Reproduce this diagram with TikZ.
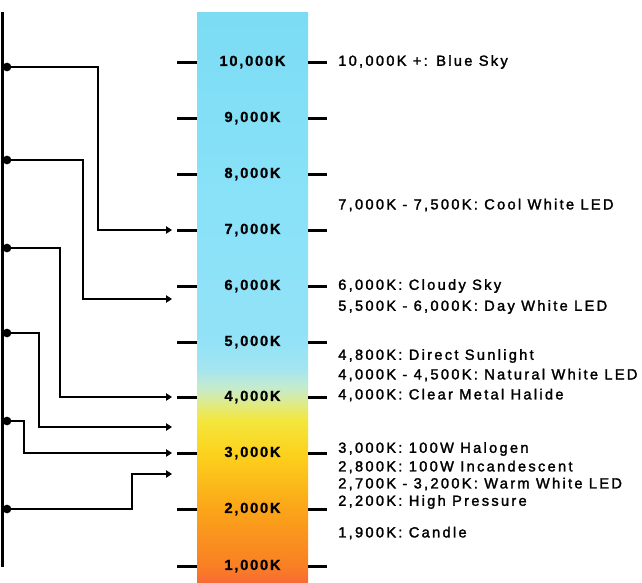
\documentclass[tikz,border=0pt]{standalone}
\usepackage{fontspec}
\setmainfont{Liberation Sans}
\newfontfamily\barfont[LetterSpace=12,BoldFeatures={FakeBold=0.8}]{Liberation Sans}
\newfontfamily\notefont[LetterSpace=15.5,FakeBold=1.8]{Liberation Sans}
\usetikzlibrary{arrows.meta}

\definecolor{kRed}{HTML}{F86B35}
\definecolor{kOrange}{HTML}{F97F24}
\definecolor{kAmber}{HTML}{FBA519}
\definecolor{kGold}{HTML}{FCD21D}
\definecolor{kYellow}{HTML}{F4E63C}
\definecolor{kLime}{HTML}{DDEB8C}
\definecolor{kMint}{HTML}{C6EBCB}
\definecolor{kPale}{HTML}{A3E5F0}
\definecolor{kSky}{HTML}{93E2F7}
\definecolor{kCyan}{HTML}{89E2F8}
\definecolor{kTop}{HTML}{7BDCF4}

% the path covers 25bp..75bp of the shading
\pgfdeclareverticalshading{kelvin}{100bp}{
  color(0bp)=(kRed); color(25bp)=(kRed); color(26.4bp)=(kOrange);
  color(31.4bp)=(kAmber); color(36.3bp)=(kGold); color(39.2bp)=(kYellow);
  color(40.75bp)=(kLime); color(42bp)=(kMint); color(43.75bp)=(kPale);
  color(46bp)=(kSky); color(58.5bp)=(kCyan); color(75bp)=(kTop);
  color(100bp)=(kTop)}

\begin{document}
\begin{tikzpicture}[
  x=0.75pt, y=-0.75pt,
  barlabel/.style={inner sep=0pt, font=\barfont\fontsize{11}{13}\selectfont\bfseries},
  notelabel/.style={inner sep=0pt, anchor=west, font=\notefont\fontsize{11}{13}\selectfont},
  scalemark/.style={line width=2.25pt},
  conn/.style={line width=1.5pt, -{Triangle[length=4.5pt,width=5.5pt]}},
  srcdot/.style={circle, fill=black, inner sep=0pt, minimum size=6.5pt},
]
\useasboundingbox (0,0) rectangle (642,582);

% colour bar
\shade[shading=kelvin] (197,12) rectangle (308,582);

% scale marks
\foreach \y in {62,118,174,230,286,342,397,453,509,566}{
  \draw[scalemark] (177,\y) -- (197,\y);
  \draw[scalemark] (308,\y) -- (327,\y);
}

% bar labels
\node[barlabel] (k10) at (252.5,62) {10,000K};
\node[barlabel] (k9) at (252.5,118) {9,000K};
\node[barlabel] (k8) at (252.5,174) {8,000K};
\node[barlabel] (k7) at (252.5,230) {7,000K};
\node[barlabel] (k6) at (252.5,286) {6,000K};
\node[barlabel] (k5) at (252.5,342) {5,000K};
\node[barlabel] (k4) at (252.5,397) {4,000K};
\node[barlabel] (k3) at (252.5,453) {3,000K};
\node[barlabel] (k2) at (252.5,509) {2,000K};
\node[barlabel] (k1) at (252.5,566) {1,000K};

% light sources
\node[notelabel] (sky) at (338,62) {10,000K +: Blue Sky};
\node[notelabel] (cool) at (338,205) {7,000K - 7,500K: Cool White LED};
\node[notelabel] (cloud) at (338,286) {6,000K: Cloudy Sky};
\node[notelabel] (day) at (338,307) {5,500K - 6,000K: Day White LED};
\node[notelabel] (sun) at (338,356) {4,800K: Direct Sunlight};
\node[notelabel] (natural) at (338,375) {4,000K - 4,500K: Natural White LED};
\node[notelabel] (halide) at (338,395) {4,000K: Clear Metal Halide};
\node[notelabel] (halogen) at (338,449) {3,000K: 100W Halogen};
\node[notelabel] (incand) at (338,467) {2,800K: 100W Incandescent};
\node[notelabel] (warm) at (338,484) {2,700K - 3,200K: Warm White LED};
\node[notelabel] (hps) at (338,502) {2,200K: High Pressure};
\node[notelabel] (candle) at (338,533) {1,900K: Candle};

% left rail
\coordinate (railtop) at (2,12);
\coordinate (railbot) at (2,567);
\draw[line width=2.25pt] (railtop) -- (railbot);

% dots on the rail
\node[srcdot] (src1) at (7,67) {};
\node[srcdot] (src2) at (7,160) {};
\node[srcdot] (src3) at (7,248) {};
\node[srcdot] (src4) at (7,333) {};
\node[srcdot] (src5) at (7,421) {};
\node[srcdot] (src6) at (7,509) {};

% bends and arrow ends
\coordinate (b1) at (98,67);
\coordinate (b2) at (83,160);
\coordinate (b3) at (60,248);
\coordinate (b4) at (39,333);
\coordinate (b5) at (24,421);
\coordinate (b6) at (132,509);
\coordinate (dst1) at (172,230);
\coordinate (dst2) at (172,299);
\coordinate (dst3) at (172,397);
\coordinate (dst4) at (172,427);
\coordinate (dst5) at (172,453);
\coordinate (dst6) at (172,474);

% connectors
\draw[conn] (src1.center) -- (b1) |- (dst1);
\draw[conn] (src2.center) -- (b2) |- (dst2);
\draw[conn] (src3.center) -- (b3) |- (dst3);
\draw[conn] (src4.center) -- (b4) |- (dst4);
\draw[conn] (src5.center) -- (b5) |- (dst5);
\draw[conn] (src6.center) -- (b6) |- (dst6);

\end{tikzpicture}
\end{document}
